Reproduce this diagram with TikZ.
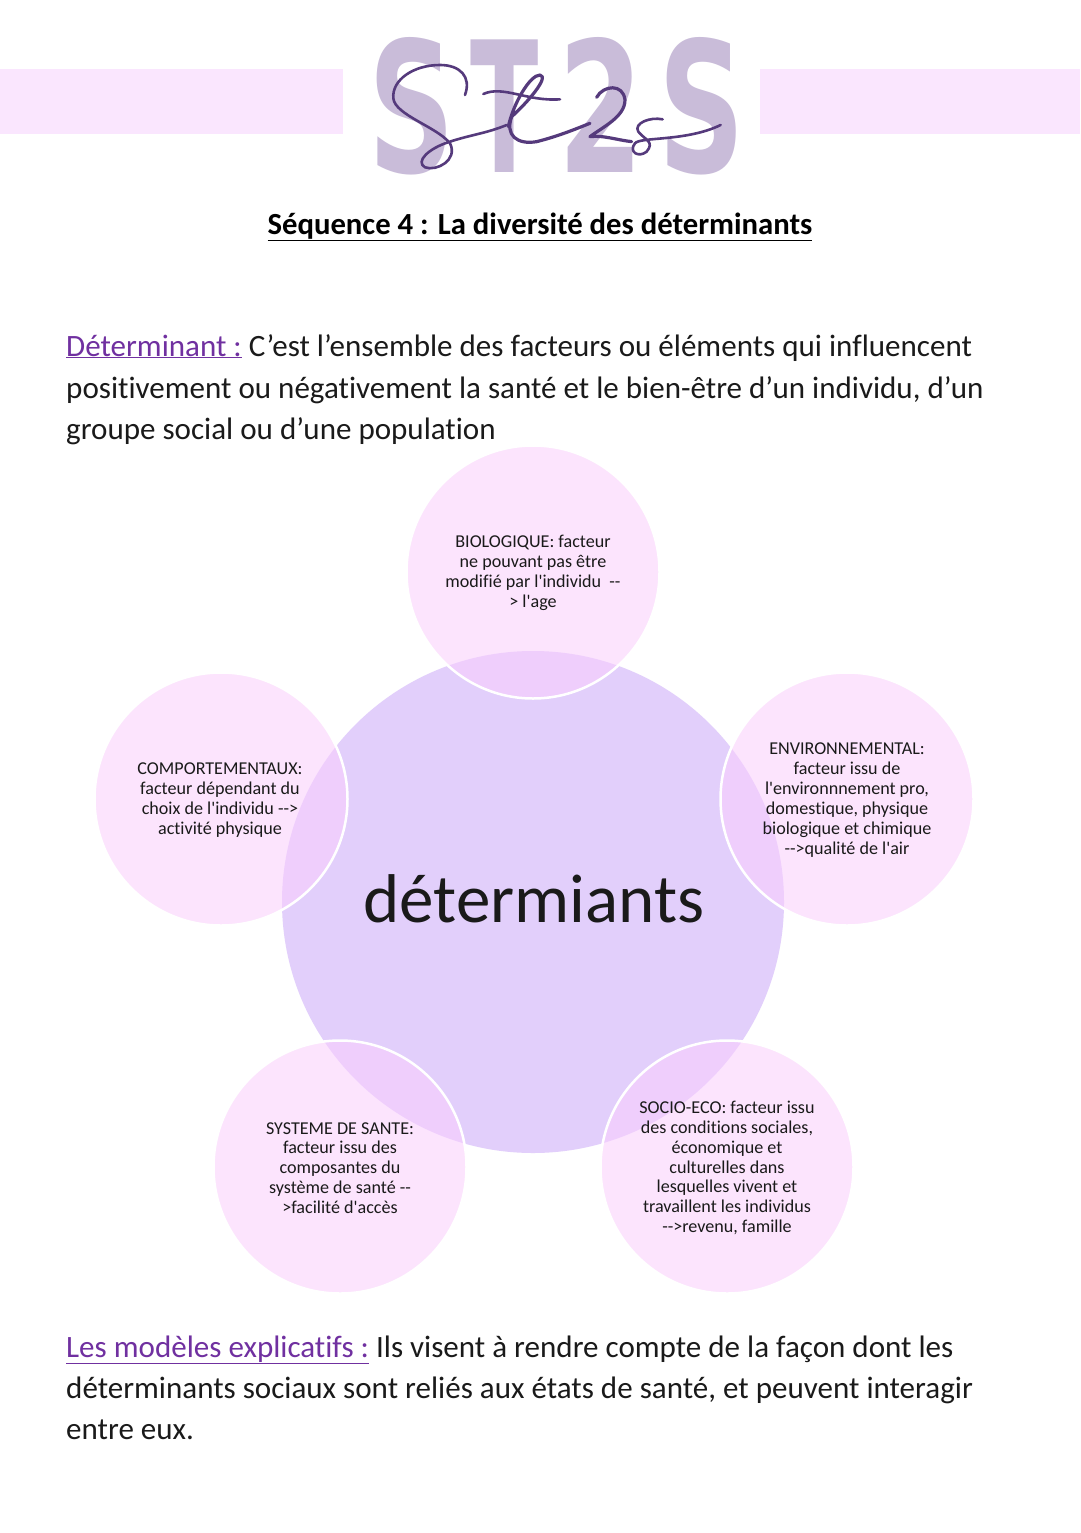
\documentclass[tikz,border=0pt]{standalone}
\usepackage{fontspec}
\setmainfont{Carlito}[Ligatures=NoCommon]
\newfontfamily\petalfont{Carlito}[Ligatures=NoCommon]
\newfontfamily\logofont{DejaVu Sans}
\definecolor{band}{HTML}{FAE6FE}
\definecolor{core}{HTML}{E2CFFB}
\definecolor{petal}{RGB}{250,206,253}
\definecolor{logolight}{HTML}{C9BCD9}
\definecolor{logodark}{HTML}{553A7C}
\definecolor{heading}{HTML}{7030A0}
\definecolor{ink}{HTML}{1A1A1A}
\tikzset{
  bandbox/.style={fill=band,draw=none},
  corecircle/.style={circle,fill=core,draw=none,minimum size=502pt,inner sep=0pt},
  petalcircle/.style={circle,fill=petal,fill opacity=.55,draw=white,line width=2.5pt,minimum size=253pt,inner sep=0pt},
  petaltext/.style={align=center,text=ink,font=\petalfont\fontsize{18.1}{19.9}\selectfont,inner sep=0pt},
  bodyline/.style={anchor=base west,text=ink,inner sep=0pt,font=\fontsize{31.05}{36}\selectfont},
  biglogo/.style={text=logolight,inner sep=0pt,anchor=base,font=\logofont\bfseries\fontsize{182}{182}\selectfont},
  scriptline/.style={draw=logodark,line width=2.6pt,line cap=round,line join=round}
}
\begin{document}
\begin{tikzpicture}[x=1pt,y=-1pt]
\useasboundingbox (0,0) rectangle (1080,1533);
\fill[white] (0,0) rectangle (1080,1533);
\fill[bandbox] (0,69) rectangle (343,134);
\fill[bandbox] (760,69) rectangle (1080,134);
% logo
\node[biglogo,xscale=.66] (l1) at (412,173) {S};
\node[biglogo,xscale=.55] (l2) at (505,173) {T};
\node[biglogo,xscale=.67] (l3) at (601,173) {2};
\node[biglogo,xscale=.66] (l4) at (702,173) {S};
\begin{scope}[shift={(340,20)},x=.3333pt,y=-.3333pt]
\draw[scriptline] (375,225) .. controls (395,170) and (360,135) .. (300,135)
  .. controls (220,135) and (155,180) .. (160,235)
  .. controls (165,285) and (290,320) .. (330,370)
  .. controls (355,420) and (290,455) .. (255,442)
  .. controls (225,425) and (265,385) .. (330,365)
  .. controls (390,345) and (440,340) .. (500,315);
\draw[scriptline] (430,222) .. controls (490,195) and (560,245) .. (660,238);
\draw[scriptline,line width=3.2pt] (505,320) .. controls (520,250) and (570,165) .. (600,165)
  .. controls (630,170) and (560,250) .. (515,290)
  .. controls (495,345) and (530,375) .. (590,365)
  .. controls (650,350) and (700,330) .. (750,310);
\draw[scriptline,line width=3.2pt] (770,232) .. controls (790,195) and (850,190) .. (855,240)
  .. controls (855,290) and (790,320) .. (750,350)
  .. controls (790,345) and (830,360) .. (875,365);
\draw[scriptline] (968,298) .. controls (930,290) and (880,310) .. (895,335)
  .. controls (915,360) and (945,365) .. (920,395)
  .. controls (895,415) and (865,395) .. (885,370)
  .. controls (900,350) and (1040,365) .. (1142,315);
\end{scope}
% title
\node[anchor=base,inner sep=0pt,text=black,font=\bfseries\fontsize{30.7}{34}\selectfont] (title) at (540,234) {\underline{Séquence 4 : La diversité des déterminants}};
% definition
\node[bodyline] (d1) at (66,356) {{\color{heading}\underline{Déterminant :}} C’est l’ensemble des facteurs ou éléments qui influencent};
\node[bodyline] (d2) at (66,398) {positivement ou négativement la santé et le bien-être d’un individu, d’un};
\node[bodyline] (d3) at (66,439) {groupe social ou d’une population};
% diagram
\node[corecircle] (core) at (533,902) {};
\node[petalcircle] (bio) at (533,572) {};
\node[petalcircle] (env) at (847,799) {};
\node[petalcircle] (soc) at (727,1167) {};
\node[petalcircle] (san) at (340,1167) {};
\node[petalcircle] (com) at (221,799) {};
\node[inner sep=0pt,text=ink,anchor=base,font=\fontsize{69}{72}\selectfont] (coretext) at (534,922) {détermiants};
\node[petaltext] (biot) at (533,573) {BIOLOGIQUE: facteur\\ne pouvant pas être\\modifié par l'individu~~-{}-\\> l'age};
\node[petaltext] (envt) at (847,800) {ENVIRONNEMENTAL:\\facteur issu de\\l'environnnement pro,\\domestique, physique\\biologique et chimique\\-{}->qualité de l'air};
\node[petaltext] (soct) at (727,1168) {SOCIO-ECO: facteur issu\\des conditions sociales,\\économique et\\culturelles dans\\lesquelles vivent et\\travaillent les individus\\-{}->revenu, famille};
\node[petaltext] (sant) at (340,1168) {SYSTEME DE SANTE:\\facteur issu des\\composantes du\\système de santé -{}-\\>facilité d'accès};
\node[petaltext] (comt) at (220,800) {COMPORTEMENTAUX:\\facteur dépendant du\\choix de l'individu -{}->\\activité physique};
% models
\node[bodyline] (m1) at (66,1357) {{\color{heading}\underline{Les modèles explicatifs :}} Ils visent à rendre compte de la façon dont les};
\node[bodyline] (m2) at (66,1398) {déterminants sociaux sont reliés aux états de santé, et peuvent interagir};
\node[bodyline] (m3) at (66,1439) {entre eux.};
\end{tikzpicture}
\end{document}
